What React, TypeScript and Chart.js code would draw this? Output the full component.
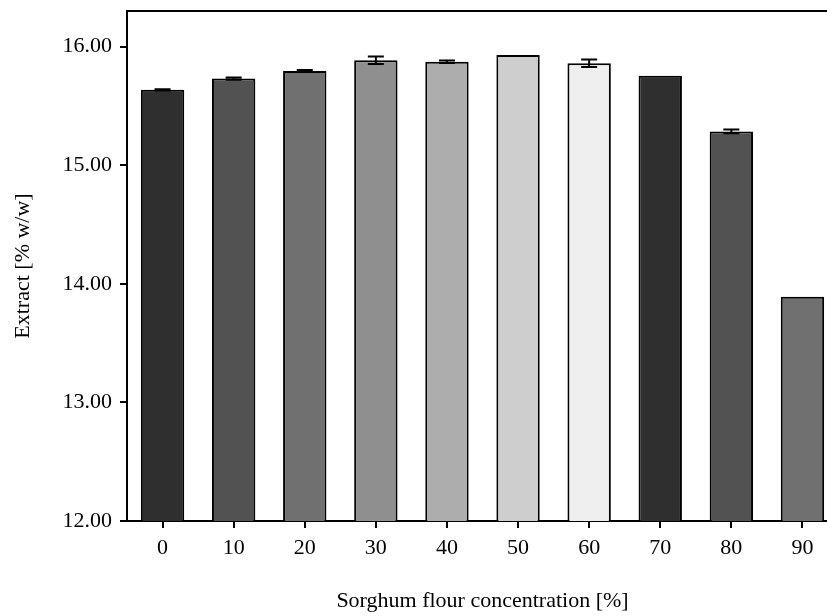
import React, { useEffect, useRef } from "react";
import { Chart, registerables } from "chart.js";

Chart.register(...registerables);

const categories = ["0", "10", "20", "30", "40", "50", "60", "70", "80", "90"];
const extractValues = [15.635, 15.73, 15.795, 15.885, 15.872, 15.93, 15.86, 15.755, 15.285, 13.89];
const errorValues = [0.006, 0.01, 0.008, 0.032, 0.01, 0, 0.032, 0, 0.015, 0];
const barColors = ["#2f2f2f", "#525252", "#707070", "#8f8f8f", "#adadad", "#cecece", "#efefef", "#2f2f2f", "#525252", "#707070"];
const yTicks = [12, 13, 14, 15, 16];

const FONT = "'Liberation Serif', 'Times New Roman', serif";

const errorBarPlugin = {
  id: "errorBars",
  afterDatasetsDraw(chart: any) {
    const { ctx, scales } = chart;
    const meta = chart.getDatasetMeta(0);
    ctx.save();
    ctx.strokeStyle = "#000";
    ctx.lineWidth = 2;
    meta.data.forEach((bar: any, i: number) => {
      const e = errorValues[i];
      if (!e) return;
      const v = extractValues[i];
      const yTop = scales.y.getPixelForValue(v + e);
      const yBot = scales.y.getPixelForValue(v - e);
      const x = bar.x;
      const cap = 8;
      ctx.beginPath();
      ctx.moveTo(x, yTop);
      ctx.lineTo(x, yBot);
      ctx.moveTo(x - cap, yTop);
      ctx.lineTo(x + cap, yTop);
      ctx.moveTo(x - cap, yBot);
      ctx.lineTo(x + cap, yBot);
      ctx.stroke();
    });
    ctx.restore();
  },
  afterDraw(chart: any) {
    const { ctx, chartArea } = chart;
    ctx.save();
    ctx.strokeStyle = "#000";
    ctx.lineWidth = 2;
    ctx.beginPath();
    ctx.moveTo(chartArea.left - 1, chartArea.top);
    ctx.lineTo(chartArea.right, chartArea.top);
    ctx.lineTo(chartArea.right, chartArea.bottom);
    ctx.stroke();
    ctx.restore();
  },
};

export default function App() {
  const ref = useRef<HTMLCanvasElement | null>(null);
  useEffect(() => {
    if (!ref.current) return;
    const chart = new Chart(ref.current, {
      type: "bar",
      data: {
        labels: categories,
        datasets: [
          {
            data: extractValues,
            backgroundColor: barColors,
            borderColor: "#000",
            borderWidth: 2,
            barPercentage: 0.61,
            categoryPercentage: 1,
            borderSkipped: false,
          },
        ],
      },
      options: {
        animation: false,
        responsive: false,
        maintainAspectRatio: false,
        layout: { padding: { left: 0, top: 11, right: 12, bottom: 0 } },
        plugins: { legend: { display: false }, tooltip: { enabled: false } },
        scales: {
          x: {
            offset: true,
            grid: { display: true, drawOnChartArea: false, drawTicks: true, tickLength: 7, color: "#000", lineWidth: 2, offset: false },
            border: { display: true, color: "#000", width: 2 },
            ticks: { color: "#000", font: { family: FONT, size: 22 }, padding: 7, maxRotation: 0 },
            title: { display: true, text: "Sorghum flour concentration [%]", color: "#000", font: { family: FONT, size: 22 }, padding: { top: 0, bottom: 2 } },
            afterFit: (s: any) => { s.height = 95; s.paddingLeft = 0; s.paddingRight = 0; },
          },
          y: {
            min: 12,
            max: 16.3,
            afterBuildTicks: (s: any) => { s.ticks = yTicks.map((v) => ({ value: v })); },
            grid: { display: true, drawOnChartArea: false, drawTicks: true, tickLength: 7, color: "#000", lineWidth: 2 },
            border: { display: true, color: "#000", width: 2 },
            ticks: { color: "#000", font: { family: FONT, size: 22 }, padding: 8, callback: (v: any) => Number(v).toFixed(2) },
            title: { display: true, text: "Extract [% w/w]", color: "#000", font: { family: FONT, size: 22 }, padding: { top: 10, bottom: 0 } },
            afterFit: (s: any) => { s.width = 127; s.paddingTop = 0; s.paddingBottom = 0; },
          },
        },
      },
      plugins: [errorBarPlugin],
    });
    return () => chart.destroy();
  }, []);
  return (
    <div style={{ position: "fixed", left: 0, top: 0, width: 827, height: 616, overflow: "hidden", background: "#fff" }}>
      <canvas ref={ref} width={850} height={616} style={{ width: 850, height: 616, display: "block" }} />
    </div>
  );
}
